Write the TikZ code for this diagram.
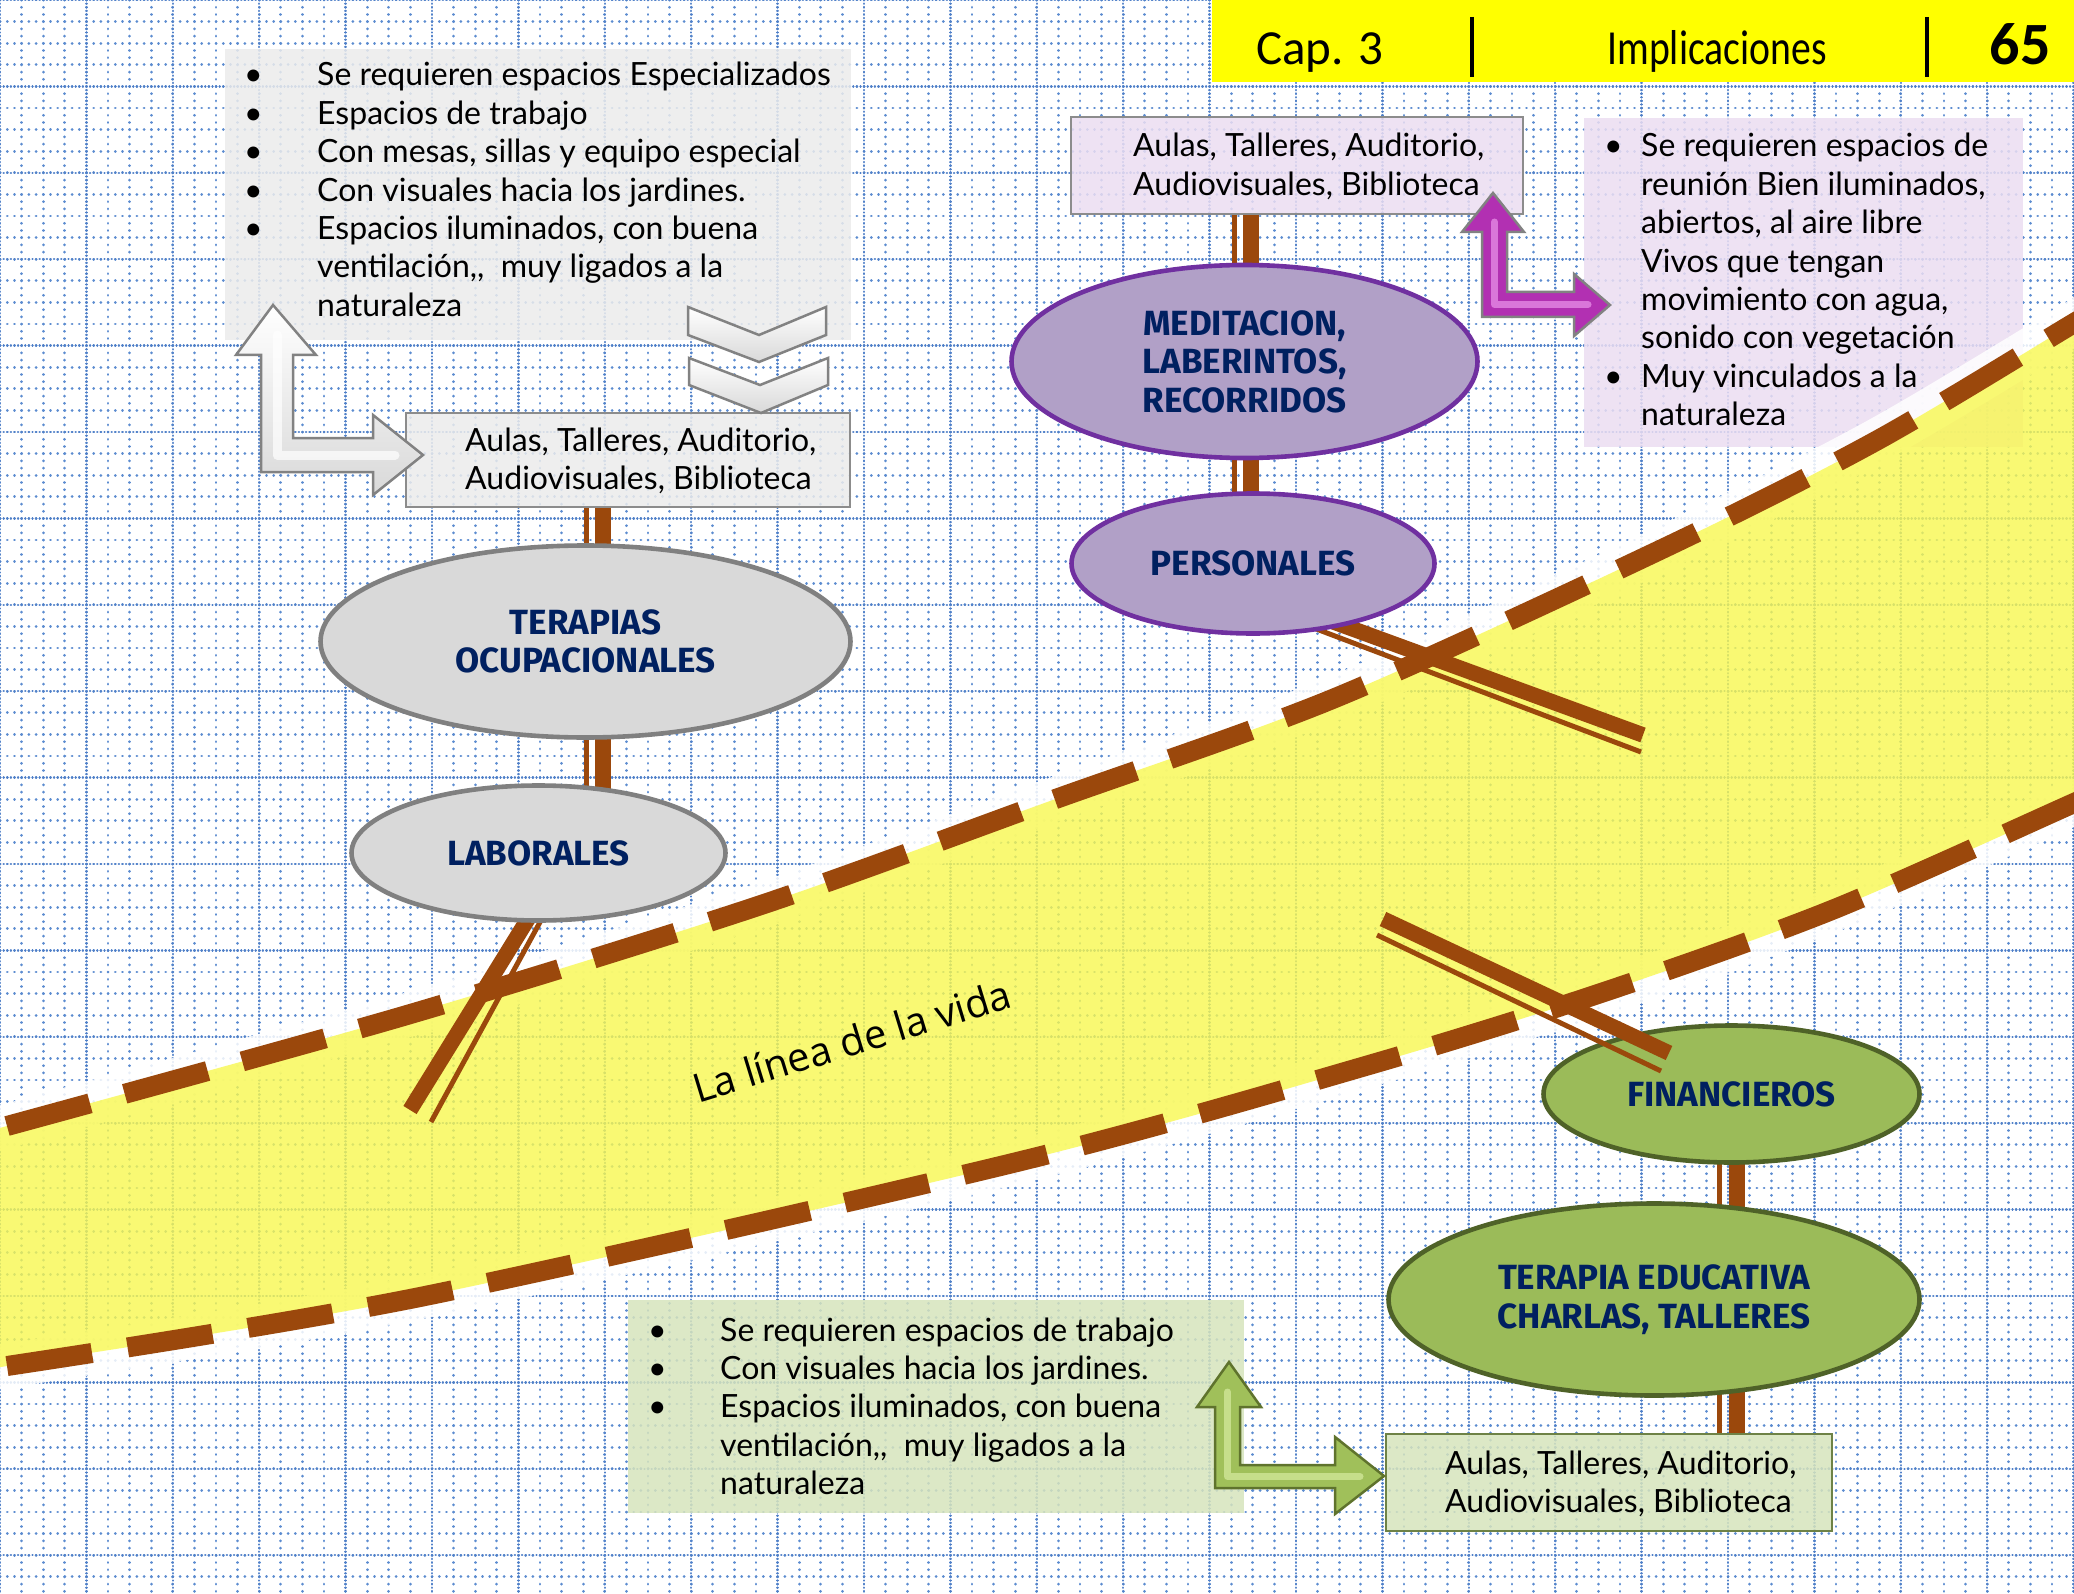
\documentclass[tikz,border=0pt]{standalone}
\usepackage{fontspec}
\usetikzlibrary{shapes.geometric,calc}
\newfontfamily\boxfont{Lato}
\newfontfamily\ellfont{Fira Sans}
\newfontfamily\hdrfont{Carlito}
\newfontfamily\roadfont{Open Sans}
\definecolor{cGridA}{RGB}{92,140,208}
\definecolor{cGridB}{RGB}{80,128,200}
\definecolor{cRoad}{RGB}{248,248,80}
\definecolor{cBrown}{RGB}{155,72,12}
\definecolor{cNavy}{RGB}{0,32,96}
\definecolor{cGrayFill}{RGB}{217,217,217}
\definecolor{cGrayLine}{RGB}{128,128,128}
\definecolor{cPurFill}{RGB}{177,160,199}
\definecolor{cPurLine}{RGB}{112,48,160}
\definecolor{cGrnFill}{RGB}{155,187,89}
\definecolor{cGrnLine}{RGB}{79,98,40}
\definecolor{cBoxGray}{RGB}{236,236,236}
\definecolor{cBoxLav}{RGB}{236,222,242}
\definecolor{cBoxGrn}{RGB}{215,228,189}
\definecolor{cBoxEdge}{RGB}{140,140,140}
\definecolor{cBoxGrnEdge}{RGB}{110,130,70}
\definecolor{cHdr}{RGB}{255,255,0}
\definecolor{cArrPur}{RGB}{178,48,178}
\definecolor{cArrPurHi}{RGB}{236,150,236}
\definecolor{cArrGrn}{RGB}{160,192,90}
\definecolor{cArrGrnHi}{RGB}{215,235,160}
\definecolor{cArrGrnLine}{RGB}{95,115,45}
\definecolor{cArrGrayLine}{RGB}{130,130,130}
\pgfdeclarelayer{bglayer}
\pgfdeclarelayer{connlayer}
\pgfsetlayers{bglayer,connlayer,main}
\tikzset{
  gminor/.style={draw=cGridA, line width=2.7pt, line cap=round, dash pattern=on 0.2pt off 7.0pt},
  gmajor/.style={draw=cGridB, line width=2.3pt, line cap=round, dash pattern=on 0.2pt off 3.4pt},
  roadglow/.style={draw=white, line width=44pt, opacity=0.85},
  roaddash/.style={draw=cBrown, line width=20pt, dash pattern=on 86pt off 36pt},
  cthick/.style={draw=cBrown, line width=15.5pt},
  cthin/.style={draw=cBrown, line width=5pt},
  plainbox/.style={rectangle, inner sep=0pt, fill opacity=0.85},
  txtbox/.style={anchor=base west, inner sep=0pt, font={\boxfont\fontsize{32pt}{38.4pt}\selectfont}},
  ellbase/.style={ellipse, inner sep=0pt, line width=4.6pt, text=cNavy, align=center,
    font={\ellfont\bfseries\fontsize{35pt}{38.5pt}\selectfont}},
  ellgray/.style={ellbase, draw=cGrayLine, fill=cGrayFill},
  ellpurple/.style={ellbase, draw=cPurLine, fill=cPurFill},
  ellgreen/.style={ellbase, draw=cGrnLine, fill=cGrnFill},
  arrgray/.style={draw=cArrGrayLine, line width=2.5pt, top color=white, bottom color=gray!30},
  arrpur/.style={draw=cArrGrayLine, line width=2.5pt, fill=cArrPur},
  arrgrn/.style={draw=cArrGrnLine, line width=2.5pt, fill=cArrGrn},
  hilite/.style={line width=9pt, opacity=0.7, line cap=round, line join=round},
  hdrtext/.style={anchor=base, inner sep=0pt, font={\hdrfont\fontsize{49pt}{58pt}\selectfont}}
}
\begin{document}
\begin{tikzpicture}[x=1pt,y=-1pt]
\useasboundingbox (0,0) rectangle (2074,1594);

\begin{pgfonlayer}{bglayer}
\fill[white] (0,0) rectangle (2074,1594);
\clip (0,0) rectangle (2074,1594);
% grid
\foreach \i in {0,...,96} \draw[gminor] (\i*21.6,0) -- (\i*21.6,1594);
\foreach \j in {0,...,73} \draw[gminor] (0,\j*21.6) -- (2074,\j*21.6);
\foreach \i in {0,4,...,96} \draw[gmajor] (\i*21.6,0) -- (\i*21.6,1594);
\foreach \j in {0,4,...,72} \draw[gmajor] (0,\j*21.6) -- (2074,\j*21.6);
% box D (under the road)
\node[plainbox, fill=cBoxLav, minimum width=439pt, minimum height=329pt] (bD) at (1803.5,282.5) {};
% road
\draw[roadglow] plot[smooth] coordinates {(-30,1136) (7,1126) (407,1015) (758,906) (1050,801) (1335,698) (1660,550) (1876,441) (2074,323) (2110,301)};
\draw[roadglow] plot[smooth] coordinates {(-30,1372) (7,1366) (420,1297) (1017,1162) (1369,1065) (1601,993) (1832,910) (2074,803) (2110,787)};
\fill[cRoad, opacity=0.8] plot[smooth] coordinates {(-30,1136) (7,1126) (407,1015) (758,906) (1050,801) (1335,698) (1660,550) (1876,441) (2074,323) (2110,301)}
  -- plot[smooth] coordinates {(2110,787) (2074,803) (1832,910) (1601,993) (1369,1065) (1017,1162) (420,1297) (7,1366) (-30,1372)} -- cycle;
% boxes
\node[plainbox, fill=cBoxGray, minimum width=626pt, minimum height=291pt] (bA) at (538,194.5) {};
\node[plainbox, fill=cBoxGray, draw=cBoxEdge, line width=2pt, minimum width=444pt, minimum height=94pt] (bB) at (628,460) {};
\node[plainbox, fill=cBoxLav, draw=cBoxEdge, line width=2pt, minimum width=452pt, minimum height=97pt] (bC) at (1297,165.5) {};
\node[plainbox, fill=cBoxGrn, minimum width=616pt, minimum height=213pt] (bE) at (936,1406.5) {};
\node[plainbox, fill=cBoxGrn, draw=cBoxGrnEdge, line width=2pt, minimum width=446pt, minimum height=97pt] (bF) at (1609,1482.5) {};
% dashed edges of the road
\draw[roaddash] plot[smooth] coordinates {(7,1126) (407,1015) (758,906) (1050,801) (1335,698) (1660,550) (1876,441) (2074,323) (2110,301)};
\draw[roaddash] plot[smooth] coordinates {(7,1366) (420,1297) (1017,1162) (1369,1065) (1601,993) (1832,910) (2074,803) (2110,787)};
\end{pgfonlayer}

% ellipses
\node[ellgray, minimum width=530pt, minimum height=192pt] (E1) at (585.5,641.5) {TERAPIAS\\OCUPACIONALES};
\node[ellgray, minimum width=374pt, minimum height=135pt] (E2) at (538.5,853) {LABORALES};
\node[ellpurple, minimum width=466pt, minimum height=193pt] (E3) at (1244.5,361.5) {MEDITACION,\\LABERINTOS,\\RECORRIDOS};
\node[ellpurple, minimum width=363pt, minimum height=140pt] (E4) at (1253,563.5) {PERSONALES};
\node[ellgreen, minimum width=376pt, minimum height=137pt] (E5) at (1731.5,1094) {FINANCIEROS};
\node[ellgreen, minimum width=531pt, minimum height=192pt] (E6) at (1654,1299.5) {TERAPIA EDUCATIVA\\CHARLAS, TALLERES};

% connector positions
\coordinate (kA) at (603,0);
\coordinate (kAt) at (586,0);
\coordinate (kP) at (1251,0);
\coordinate (kPt) at (1234,0);
\coordinate (kG) at (1737,0);
\coordinate (kGt) at (1719.5,0);
\coordinate (l1) at (552,880);
\coordinate (l2) at (410,1110);
\coordinate (l3) at (563,880);
\coordinate (l4) at (431,1122);
\coordinate (p1) at (1290,606);
\coordinate (p2) at (1643,735);
\coordinate (p3) at (1290,619);
\coordinate (p4) at (1641,752);
\coordinate (f1) at (1383,919);
\coordinate (f2) at (1669,1053);
\coordinate (f3) at (1377,935);
\coordinate (f4) at (1661,1071);

\begin{pgfonlayer}{connlayer}
\draw[cthick] (bB.south -| kA) -- (E1.center -| kA);
\draw[cthin] (bB.south -| kAt) -- (E1.center -| kAt);
\draw[cthick] (E1.center -| kA) -- (E2.center -| kA);
\draw[cthin] (E1.center -| kAt) -- (E2.center -| kAt);
\draw[cthick] (l1) -- (l2);
\draw[cthin] (l3) -- (l4);
\draw[cthick] (bC.south -| kP) -- (E3.center -| kP);
\draw[cthin] (bC.south -| kPt) -- (E3.center -| kPt);
\draw[cthick] (E3.center -| kP) -- (E4.center -| kP);
\draw[cthin] (E3.center -| kPt) -- (E4.center -| kPt);
\draw[cthick] (p1) -- (p2);
\draw[cthin] (p3) -- (p4);
\draw[cthick] (E5.center -| kG) -- (E6.center -| kG);
\draw[cthin] (E5.center -| kGt) -- (E6.center -| kGt);
\draw[cthick] (E6.center -| kG) -- (bF.north -| kG);
\draw[cthin] (E6.center -| kGt) -- (bF.north -| kGt);
\end{pgfonlayer}
% connector lying over FINANCIEROS
\draw[cthick] (f1) -- (f2);
\draw[cthin] (f3) -- (f4);

% box texts
\node[txtbox] (tA) at (244,86) {\begin{tabular}[t]{@{}p{73pt}@{}l@{}}
•&Se requieren espacios Especializados\\
•&Espacios de trabajo\\
•&Con mesas, sillas y equipo especial\\
•&Con visuales hacia los jardines.\\
•&Espacios iluminados, con buena\\
&ventilación,,~ muy ligados a la\\
&naturaleza\end{tabular}};
\node[txtbox] (tB) at (465,451) {\begin{tabular}[t]{@{}l@{}}Aulas, Talleres, Auditorio,\\Audiovisuales, Biblioteca\end{tabular}};
\node[txtbox] (tC) at (1133,157) {\begin{tabular}[t]{@{}l@{}}Aulas, Talleres, Auditorio,\\Audiovisuales, Biblioteca\end{tabular}};
\node[txtbox] (tD) at (1604,157) {\begin{tabular}[t]{@{}p{37pt}@{}l@{}}
•&Se requieren espacios de\\
&reunión Bien iluminados,\\
&abiertos, al aire libre\\
&Vivos que tengan\\
&movimiento con agua,\\
&sonido con vegetación\\
•&Muy vinculados a la\\
&naturaleza\end{tabular}};
\node[txtbox] (tE) at (648,1341) {\begin{tabular}[t]{@{}p{72pt}@{}l@{}}
•&Se requieren espacios de trabajo\\
•&Con visuales hacia los jardines.\\
•&Espacios iluminados, con buena\\
&ventilación,,~ muy ligados a la\\
&naturaleza\end{tabular}};
\node[txtbox] (tF) at (1445,1474) {\begin{tabular}[t]{@{}l@{}}Aulas, Talleres, Auditorio,\\Audiovisuales, Biblioteca\end{tabular}};

% road label
\node[anchor=base, inner sep=0pt, rotate=17, font={\roadfont\fontsize{40pt}{48pt}\selectfont}] (lv) at (856,1055) {La línea de la vida};

% bent arrows
\draw[arrgray] (273,305) -- (316,355) -- (293,355) -- (293,438) -- (373,438) -- (373,415) -- (423,455) -- (373,495) -- (373,472) -- (261,472) -- (261,355) -- (236,355) -- cycle;
\draw[hilite, white] (277,335) -- (277,455) -- (395,455);
\draw[arrpur] (1493,193) -- (1524,232) -- (1507,232) -- (1507,292) -- (1574,292) -- (1574,274) -- (1610,305) -- (1574,336) -- (1574,317) -- (1482,317) -- (1482,232) -- (1462,232) -- cycle;
\draw[hilite, cArrPurHi, line width=7pt] (1494.5,222) -- (1494.5,304.5) -- (1588,304.5);
\draw[arrgrn] (1229,1362) -- (1261,1407) -- (1240,1407) -- (1240,1465) -- (1335,1465) -- (1335,1437) -- (1384,1476) -- (1335,1514) -- (1335,1488) -- (1215,1488) -- (1215,1407) -- (1197,1407) -- cycle;
\draw[hilite, cArrGrnHi, line width=7pt] (1227.5,1392) -- (1227.5,1476.5) -- (1360,1476.5);
% chevrons
\draw[arrgray] (688,307) -- (759,335) -- (826,307) -- (826,335) -- (759,362) -- (688,335) -- cycle;
\draw[arrgray] (689,358) -- (760,385) -- (828,358) -- (828,385) -- (761,413) -- (689,385) -- cycle;

% header
\node[fill=cHdr, inner sep=0pt, minimum width=862pt, minimum height=82pt, anchor=north west] (hdr) at (1212,0) {};
\node[hdrtext, anchor=base west] (hcap) at (1256,65) {Cap. 3};
\node[hdrtext] (himp) at (1717,65) {\scalebox{0.81}[1]{Implicaciones}};
\node[hdrtext, font={\hdrfont\bfseries\fontsize{60pt}{70pt}\selectfont}] (hnum) at (2020,65) {65};
\draw[line width=4.5pt] (1472,17) -- (1472,77);
\draw[line width=4.5pt] (1927,17) -- (1927,77);
\end{tikzpicture}
\end{document}
